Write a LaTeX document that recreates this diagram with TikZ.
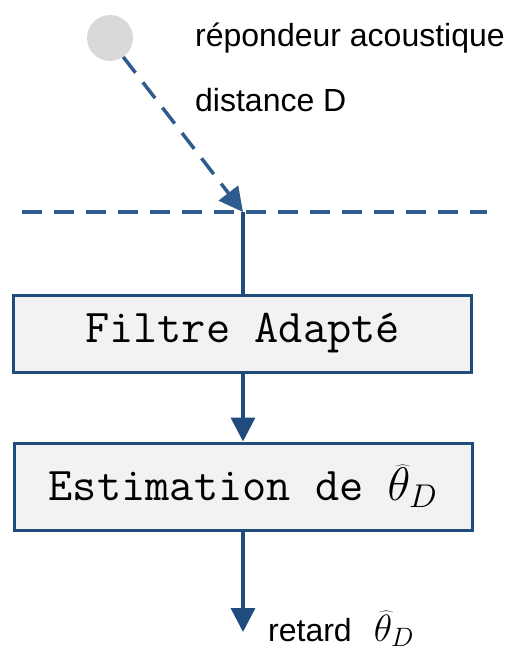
\RequirePackage{fix-cm}
\documentclass[tikz,border=0pt]{standalone}
\usepackage{fontspec}
\setmainfont{Liberation Sans}
\usetikzlibrary{arrows.meta}
\definecolor{dblue}{HTML}{2E5C8E}
\definecolor{ablue}{HTML}{1F4B7D}
\definecolor{bfill}{HTML}{F2F2F2}
\definecolor{cgray}{HTML}{D9D9D9}
\begin{document}
\begin{tikzpicture}[x=1pt,y=-1pt,
  box/.style={draw=ablue,line width=3pt,fill=bfill,minimum width=458pt,inner sep=0pt,font=\fontsize{47}{50}\selectfont\ttfamily},
  lbl/.style={font=\fontsize{32}{36}\selectfont,anchor=west,inner sep=0pt},
  flow/.style={ablue,line width=3.5pt,-{Triangle[length=24pt,width=24pt]}},
  dsh/.style={dblue,line width=3.5pt,dash pattern=on 20pt off 12pt}]
\useasboundingbox (0,0) rectangle (512,651);
\node[circle,fill=cgray,minimum size=46pt,inner sep=0pt] (circ) at (110,38) {};
\node[lbl] (l1) at (195,38) {répondeur acoustique};
\node[lbl] (l2) at (195,100) {distance D};
\coordinate (j) at (243,212);
\coordinate (hl) at (22,212);
\coordinate (hr) at (487,212);
\draw[dsh] (hl) -- (hr);
\draw[dsh,-{Triangle[length=24pt,width=24pt]}] (circ.-55) -- (j);
\node[box,minimum height=77pt] (b1) at (242.5,333.5) {Filtre Adapté};
\node[box,minimum height=87pt] (b2) at (243,486.5) {Estimation de $\widehat{\theta}_D$};
\draw[ablue,line width=3.5pt] (j) -- (b1.north -| j);
\draw[flow] (b1.south -| j) -- (b2.north -| j);
\coordinate (e) at (243,632);
\draw[flow] (b2.south -| e) -- (e);
\node[lbl,anchor=base west] (out) at (268,641) {retard\hspace{22pt}{\fontsize{38}{40}\selectfont$\widehat{\theta}_D$}};
\end{tikzpicture}
\end{document}
